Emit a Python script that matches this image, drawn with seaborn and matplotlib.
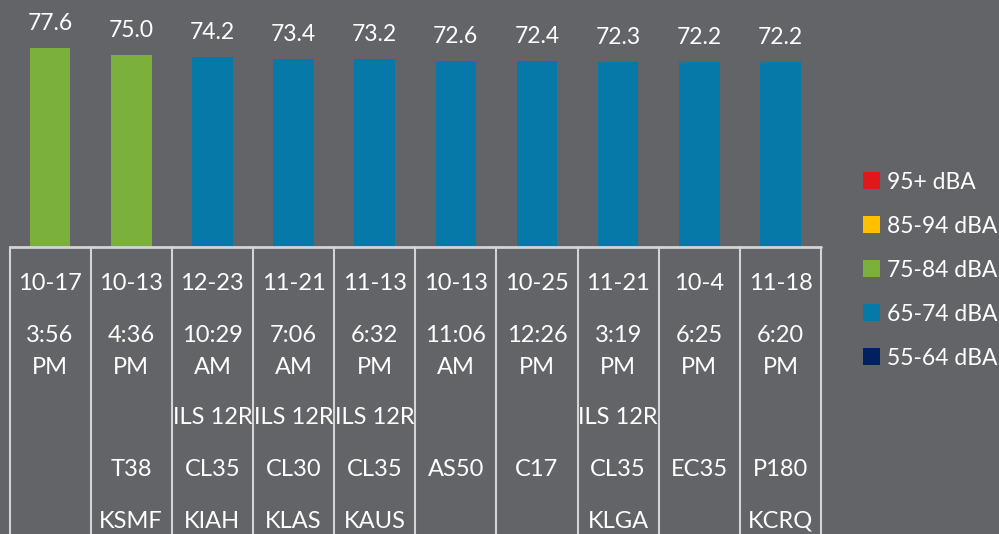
import numpy as np
import pandas as pd
import matplotlib
matplotlib.use("Agg")
import matplotlib.pyplot as plt
from matplotlib.patches import Patch
import seaborn as sns

# loudest events, left to right
levels = [77.6, 75.0, 74.2, 73.4, 73.2, 72.6, 72.4, 72.3, 72.2, 72.2]
bands = ["75-84 dBA", "75-84 dBA", "65-74 dBA", "65-74 dBA", "65-74 dBA",
         "65-74 dBA", "65-74 dBA", "65-74 dBA", "65-74 dBA", "65-74 dBA"]
dates = ["10-17", "10-13", "12-23", "11-21", "11-13", "10-13", "10-25", "11-21", "10-4", "11-18"]
times = ["3:56 PM", "4:36 PM", "10:29 AM", "7:06 AM", "6:32 PM",
         "11:06 AM", "12:26 PM", "3:19 PM", "6:25 PM", "6:20 PM"]
procedures = ["", "", "ILS 12R", "ILS 12R", "ILS 12R", "", "", "ILS 12R", "", ""]
aircraft = ["", "T38", "CL35", "CL30", "CL35", "AS50", "C17", "CL35", "EC35", "P180"]
airports = ["", "KSMF", "KIAH", "KLAS", "KAUS", "", "", "KLGA", "", "KCRQ"]

legend_bands = ["95+ dBA", "85-94 dBA", "75-84 dBA", "65-74 dBA", "55-64 dBA"]
band_colors = ["#e2171b", "#ffc000", "#7cb03d", "#0779a9", "#002060"]

BG = "#636468"
LINE = "#d4d4d4"

sns.set_style("white")
plt.rcParams["font.family"] = ["Lato", "DejaVu Sans"]

df = pd.DataFrame({"event": [str(i) for i in range(len(levels))],
                   "level": levels, "band": bands})
palette = dict(zip(legend_bands, band_colors))

fig = plt.figure(figsize=(9.99, 5.34), dpi=100, facecolor=BG)
left = 9.5 / 999
width = (821 - 9.5) / 999
split = (534 - 247) / 534

ax = fig.add_axes([left, split, width, 1 - split])
ax.set_facecolor(BG)
sns.barplot(data=df, x="event", y="level", hue="band", palette=palette,
            dodge=False, width=0.5, legend=False, saturation=1,
            edgecolor="none", linewidth=0, ax=ax)
for c in ax.containers:
    ax.bar_label(c, fmt="%.1f", padding=10, color="white", fontsize=16.5)
ax.set_xlim(-0.5, len(levels) - 0.5)
ax.set_ylim(0, 96.3)
ax.set_xticks([])
ax.set_yticks([])
ax.set_xlabel("")
ax.set_ylabel("")
sns.despine(ax=ax, left=True, bottom=True)

# data table under the bars
tab = fig.add_axes([left, 0, width, split])
tab.set_facecolor(BG)
tab.set_xlim(-0.5, len(levels) - 0.5)
tab.set_ylim(287, 0)
tab.axis("off")
tab.axhline(0, color=LINE, lw=2, clip_on=False)
for i in range(len(levels) + 1):
    tab.axvline(i - 0.5, color=LINE, lw=1.5, clip_on=False)

txt = dict(color="white", fontsize=17, ha="center", va="center")
for i in range(len(levels)):
    tab.text(i, 36, dates[i], **txt)
    t, ampm = times[i].split(" ")
    tab.text(i, 88, t, **txt)
    tab.text(i, 120, ampm, **txt)
    tab.text(i, 171, procedures[i], **txt)
    tab.text(i, 222, aircraft[i], **txt)
    tab.text(i, 274, airports[i], **txt)

handles = [Patch(facecolor=c, edgecolor="none") for c in band_colors]
fig.legend(handles, legend_bands, loc="center left", bbox_to_anchor=(863 / 999, 0.494),
           frameon=False, fontsize=16.5, labelcolor="white", handlelength=0.75,
           handleheight=0.75, handletextpad=0.3, labelspacing=1.0,
           borderpad=0, borderaxespad=0)

fig.savefig("out.png", dpi=100, facecolor=BG)
